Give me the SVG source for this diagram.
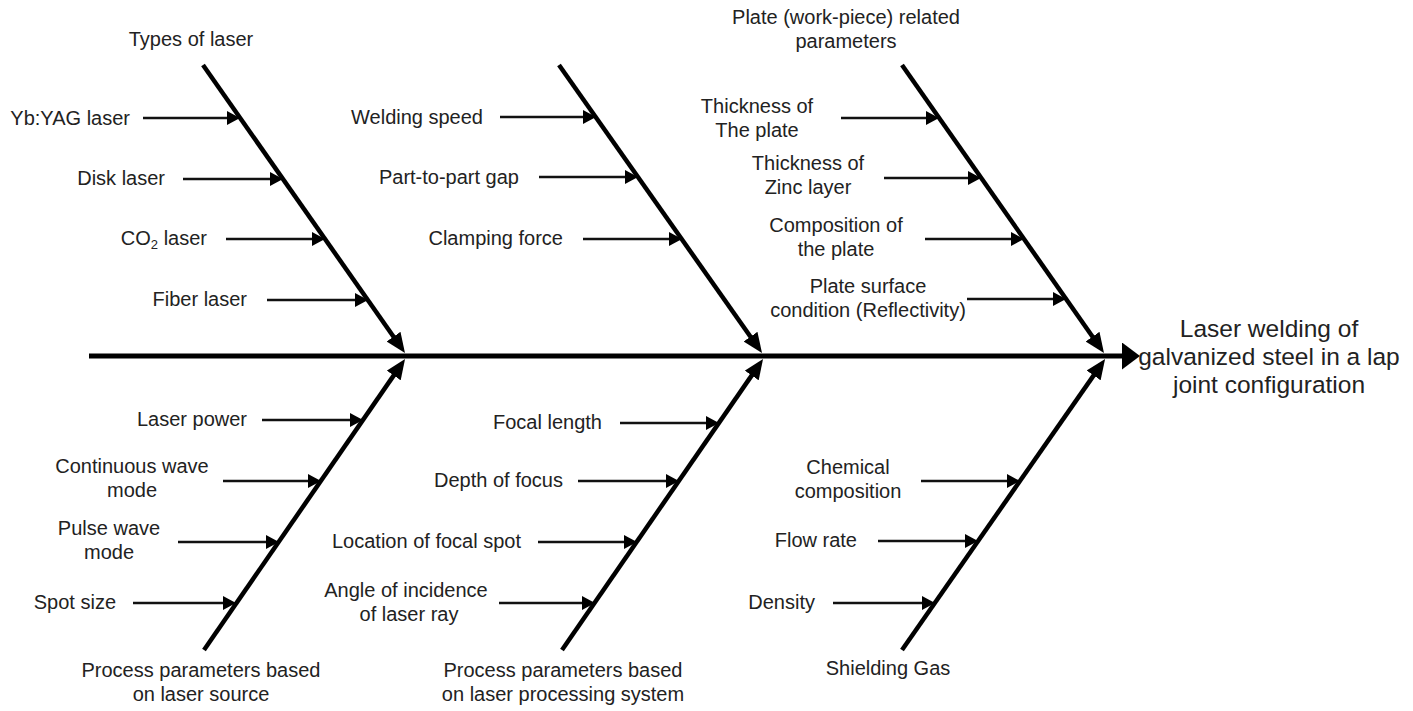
<svg xmlns="http://www.w3.org/2000/svg" width="1413" height="711" viewBox="0 0 1413 711">
<style>
text{font-family:"Liberation Sans",Arial,sans-serif;font-size:20px;fill:#222}
.r{text-anchor:end}
.m{text-anchor:middle}
.big{font-size:24.5px;text-anchor:middle}
.spine{stroke:#000;stroke-width:5;fill:none}
.bone{stroke:#000;stroke-width:4.5;fill:none;marker-end:url(#bh)}
.rib{stroke:#111;stroke-width:2.5;fill:none;marker-end:url(#rh)}
</style>
<defs>
<marker id="rh" markerUnits="userSpaceOnUse" markerWidth="13" markerHeight="14" viewBox="0 0 13 14" refX="8" refY="7" orient="auto"><path d="M0,0 L13,7 L0,14 z" fill="#000"/></marker>
<marker id="bh" markerUnits="userSpaceOnUse" markerWidth="20" markerHeight="17" viewBox="0 0 20 17" refX="12" refY="8.5" orient="auto"><path d="M0,0 L20,8.5 L0,17 z" fill="#000"/></marker>
<marker id="mh" markerUnits="userSpaceOnUse" markerWidth="18" markerHeight="27" viewBox="0 0 18 27" refX="8" refY="13.5" orient="auto"><path d="M0,0 L18,13.5 L0,27 z" fill="#000"/></marker>
</defs>
<g id="connectors">
<line class="spine" x1="89" y1="356" x2="1130" y2="356" marker-end="url(#mh)"/>
<line class="bone" x1="203" y1="65" x2="400.4" y2="346.5"/>
<line class="bone" x1="559" y1="65" x2="757.4" y2="346.5"/>
<line class="bone" x1="902" y1="65" x2="1099.4" y2="346.5"/>
<line class="bone" x1="204" y1="650" x2="400.5" y2="365.6"/>
<line class="bone" x1="562" y1="650" x2="758.5" y2="365.6"/>
<line class="bone" x1="902" y1="650" x2="1100.5" y2="365.6"/>
<line class="rib" x1="143" y1="118" x2="235" y2="118"/>
<line class="rib" x1="183" y1="179" x2="278" y2="179"/>
<line class="rib" x1="226" y1="239" x2="320" y2="239"/>
<line class="rib" x1="267" y1="300" x2="363" y2="300"/>
<line class="rib" x1="500" y1="117" x2="591" y2="117"/>
<line class="rib" x1="539" y1="177" x2="633" y2="177"/>
<line class="rib" x1="583" y1="239" x2="677" y2="239"/>
<line class="rib" x1="841" y1="118" x2="934" y2="118"/>
<line class="rib" x1="884" y1="178" x2="976" y2="178"/>
<line class="rib" x1="925" y1="239" x2="1019" y2="239"/>
<line class="rib" x1="967" y1="299" x2="1061" y2="299"/>
<line class="rib" x1="262" y1="420" x2="358" y2="420"/>
<line class="rib" x1="223" y1="481" x2="316" y2="481"/>
<line class="rib" x1="178" y1="542" x2="274" y2="542"/>
<line class="rib" x1="133" y1="603" x2="231" y2="603"/>
<line class="rib" x1="620" y1="423" x2="714" y2="423"/>
<line class="rib" x1="578" y1="481" x2="674" y2="481"/>
<line class="rib" x1="538" y1="542" x2="632" y2="542"/>
<line class="rib" x1="499" y1="603" x2="590" y2="603"/>
<line class="rib" x1="921" y1="481" x2="1015" y2="481"/>
<line class="rib" x1="878" y1="541" x2="973" y2="541"/>
<line class="rib" x1="833" y1="603" x2="930" y2="603"/>
</g>
<g id="effect"><text class="big" x="1269" y="337">Laser welding of</text><text class="big" x="1269" y="365">galvanized steel in a lap</text><text class="big" x="1269" y="393">joint configuration</text></g>
<g id="types-of-laser"><text class="m" x="191" y="46">Types of laser</text></g>
<g id="yb-yag"><text class="r" x="130" y="125">Yb:YAG laser</text></g>
<g id="disk"><text class="r" x="165" y="185">Disk laser</text></g>
<g id="co2"><text class="r" x="207" y="245">CO<tspan font-size="13" dy="4">2</tspan><tspan dy="-4"> laser</tspan></text></g>
<g id="fiber"><text class="r" x="247" y="306">Fiber laser</text></g>
<g id="welding-speed"><text class="r" x="483" y="124">Welding speed</text></g>
<g id="gap"><text class="r" x="519" y="184">Part-to-part gap</text></g>
<g id="clamping"><text class="r" x="563" y="245">Clamping force</text></g>
<g id="plate-params"><text class="m" x="846" y="24">Plate (work-piece) related</text><text class="m" x="846" y="48">parameters</text></g>
<g id="thick-plate"><text class="m" x="757" y="113">Thickness of</text><text class="m" x="757" y="137">The plate</text></g>
<g id="thick-zinc"><text class="m" x="808" y="170">Thickness of</text><text class="m" x="808" y="194">Zinc layer</text></g>
<g id="composition"><text class="m" x="836" y="232">Composition of</text><text class="m" x="836" y="256">the plate</text></g>
<g id="surface"><text class="m" x="868" y="293">Plate surface</text><text class="m" x="868" y="317">condition (Reflectivity)</text></g>
<g id="laser-power"><text class="r" x="247" y="426">Laser power</text></g>
<g id="cw"><text class="m" x="132" y="473">Continuous wave</text><text class="m" x="132" y="497">mode</text></g>
<g id="pw"><text class="m" x="109" y="535">Pulse wave</text><text class="m" x="109" y="559">mode</text></g>
<g id="spot"><text class="r" x="116" y="609">Spot size</text></g>
<g id="source"><text class="m" x="201" y="677">Process parameters based</text><text class="m" x="201" y="701">on laser source</text></g>
<g id="focal-length"><text class="r" x="602" y="429">Focal length</text></g>
<g id="depth"><text class="r" x="563" y="487">Depth of focus</text></g>
<g id="location"><text class="r" x="521" y="548">Location of focal spot</text></g>
<g id="angle"><text class="m" x="406" y="597">Angle of incidence</text><text class="m" x="409" y="621">of laser ray</text></g>
<g id="system"><text class="m" x="563" y="677">Process parameters based</text><text class="m" x="563" y="701">on laser processing system</text></g>
<g id="chemical"><text class="m" x="848" y="474">Chemical</text><text class="m" x="848" y="498">composition</text></g>
<g id="flow"><text class="r" x="857" y="547">Flow rate</text></g>
<g id="density"><text class="r" x="815" y="609">Density</text></g>
<g id="gas"><text class="m" x="888" y="675">Shielding Gas</text></g>
</svg>
